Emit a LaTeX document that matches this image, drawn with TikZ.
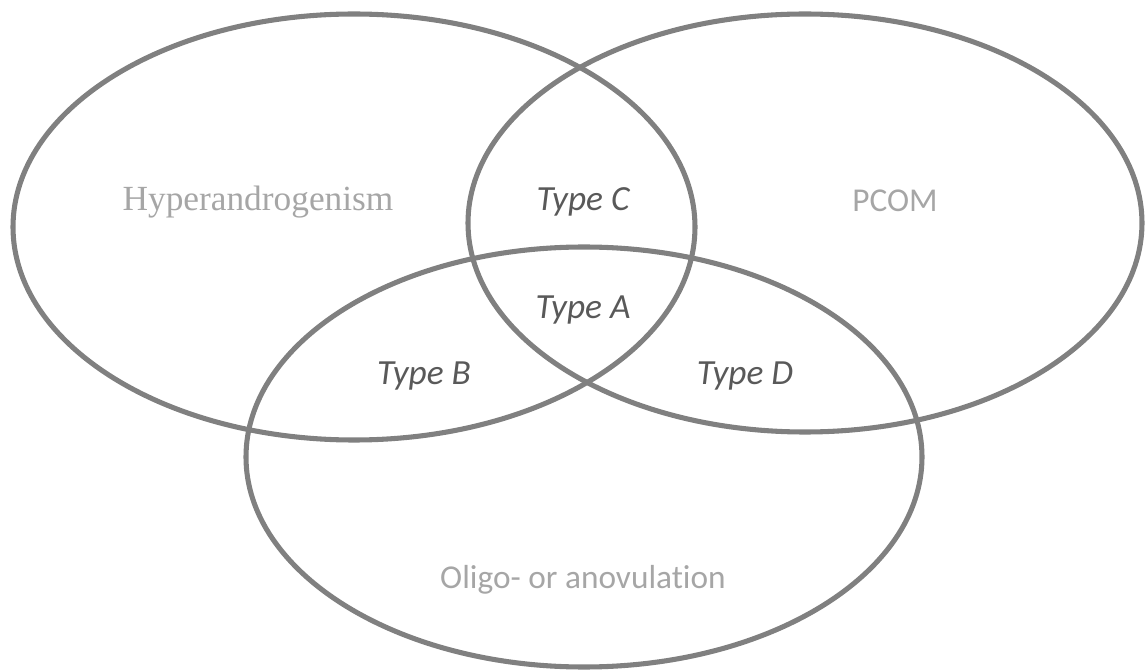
\documentclass[tikz,border=0pt]{standalone}
\usepackage{fontspec}
\setmainfont{Liberation Serif}
\newfontfamily\calibri[Ligatures=NoCommon]{Carlito}
\usepackage{xcolor}
\usepackage{tikz}
\usetikzlibrary{positioning, shapes.geometric}

\definecolor{ringgray}{HTML}{808080}
\definecolor{setgray}{HTML}{A6A6A6}
\definecolor{typegray}{HTML}{595959}

\begin{document}
\begin{tikzpicture}[
        x=0.75pt, y=-0.75pt,
        ring/.style={ellipse, draw=ringgray, line width=3.8pt, inner sep=0pt},
        setlabel/.style={anchor=base, text=setgray, font=\calibri\fontsize{25}{30}\selectfont},
        typelabel/.style={anchor=base, text=typegray, font=\calibri\itshape\fontsize{26.5}{32}\selectfont},
    ]
        \useasboundingbox (0,0) rectangle (1147,670);

        % Sets
        \node[ring, minimum width=511.5pt, minimum height=319.5pt] (hyper) at (354,227) {};
        \node[ring, minimum width=505.5pt, minimum height=313.5pt] (pcom) at (805,223) {};
        \node[ring, minimum width=507pt, minimum height=315pt] (oligo) at (584,457) {};

        % Set names
        \node[setlabel, font=\fontsize{26.5}{32}\selectfont] (hypername) at (258,211) {Hyperandrogenism};
        \node[setlabel] (pcomname) at (895,212) {PCOM};
        \node[setlabel] (oligoname) at (583,588) {Oligo- or anovulation};

        % Overlaps
        \node[typelabel] (typec) at (583,211) {Type C};
        \node[typelabel] (typea) at (583,319) {Type A};
        \node[typelabel] (typeb) at (424,385) {Type B};
        \node[typelabel] (typed) at (745,385) {Type D};

    \end{tikzpicture}
\end{document}
